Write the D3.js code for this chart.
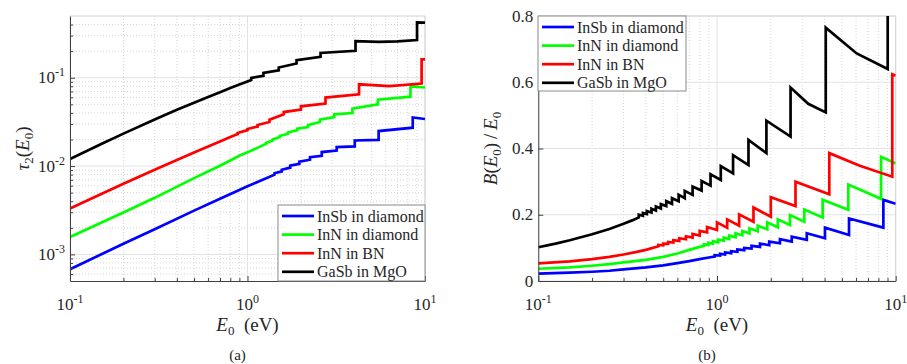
<!DOCTYPE html>
<html>
<head>
<meta charset="utf-8">
<script src="https://cdn.jsdelivr.net/npm/d3@7"></script>
<style>
body { margin: 0; background: #fff; }
svg text { font-family: "Liberation Serif", Tinos, "Times New Roman", "DejaVu Serif", serif; fill: #262626; }
</style>
</head>
<body>
<div id="chart"></div>
<script>
// series names + colors (legend order)
var seriesNames = ["InSb in diamond", "InN in diamond", "InN in BN", "GaSb in MgO"];
var seriesColors = ["#0000ff", "#00ff00", "#ff0000", "#000000"];

// (a) tau_2(E0), points [E0, tau]
var tauInSbDiamond = [[0.1,0.00068],[0.2,0.00132],[0.3,0.00193],[0.5,0.00313],[0.7,0.00427],[1.0,0.0059],
  [1.42,0.0080],[1.42,0.0083],[1.56,0.0087],[1.56,0.0091],[1.74,0.0096],[1.74,0.0101],[1.96,0.0106],[1.96,0.0112],
  [2.25,0.0118],[2.25,0.0126],[2.62,0.0131],[2.62,0.0144],[3.18,0.0150],[3.18,0.0164],[4.02,0.0167],[4.02,0.0195],
  [5.48,0.0198],[5.48,0.0249],[8.53,0.0272],[8.53,0.0355],[10,0.0341]];
var tauInNDiamond = [[0.1,0.00157],[0.2,0.00298],[0.3,0.00437],[0.5,0.0073],[0.7,0.0101],[0.9,0.0131],[1.0,0.0143],
  [1.27,0.0178],[1.27,0.0183],[1.385,0.0194],[1.385,0.0200],[1.52,0.0213],[1.52,0.0219],[1.69,0.0232],[1.69,0.0240],
  [1.91,0.0255],[1.91,0.0265],[2.19,0.0276],[2.19,0.0291],[2.56,0.0315],[2.56,0.0335],[3.08,0.0359],[3.08,0.0385],
  [3.9,0.0398],[3.9,0.0447],[5.43,0.0500],[5.43,0.0565],[8.28,0.0610],[8.28,0.0800],[10,0.0775]];
var tauInNBN = [[0.1,0.0033],[0.15,0.00483],[0.2,0.00631],[0.3,0.00908],[0.4,0.01173],[0.5,0.01425],[0.6,0.01667],
  [0.7,0.0190],[0.8,0.0213],[0.88,0.0230],[0.88,0.0237],
  [1.0,0.0255],[1.0,0.0263],[1.14,0.0280],[1.14,0.0292],[1.33,0.0315],[1.33,0.0335],[1.6,0.0385],[1.6,0.0409],
  [2.0,0.0435],[2.0,0.0475],[2.75,0.0509],[2.75,0.0596],[4.25,0.0650],[4.25,0.0843],[6.3,0.0805],[9.57,0.0860],
  [9.57,0.161],[10,0.161]];
var tauGaSbMgO = [[0.1,0.0120],[0.15,0.0178],[0.2,0.0233],[0.3,0.0337],[0.4,0.0434],[0.5,0.0522],[0.6,0.0607],
  [0.7,0.0687],[0.8,0.0764],[0.9,0.0838],
  [1.05,0.0942],[1.05,0.0998],[1.23,0.105],[1.23,0.1135],[1.5,0.1216],[1.5,0.1306],[1.89,0.145],[1.89,0.158],
  [2.58,0.1725],[2.58,0.191],[4.06,0.202],[4.06,0.260],[5.5,0.255],[7.0,0.258],[9.02,0.267],[9.02,0.424],[10,0.42]];

// (b) B(E0)/E0, points [E0, ratio]
var bInSbDiamond = [[0.1,0.022],[0.15,0.025],[0.2,0.028],[0.25,0.031],[0.3,0.035],[0.4,0.041],[0.5,0.047],[0.6,0.054],
  [0.7,0.060],[0.8,0.066],[0.9,0.071],[0.97,0.074],[0.97,0.078],
  [1.04,0.077],[1.04,0.082],[1.11,0.080],[1.11,0.086],[1.2,0.084],[1.2,0.090],[1.3,0.088],[1.3,0.095],[1.42,0.093],[1.42,0.100],
  [1.56,0.098],[1.56,0.106],[1.74,0.103],[1.74,0.113],[1.96,0.108],[1.96,0.119],[2.25,0.114],[2.25,0.126],[2.62,0.119],[2.62,0.134],
  [3.18,0.124],[3.18,0.144],[4.02,0.129],[4.02,0.161],[5.48,0.139],[5.48,0.189],[8.53,0.161],[8.53,0.245],[10,0.233]];
var bInNDiamond = [[0.1,0.037],[0.15,0.041],[0.2,0.046],[0.25,0.051],[0.3,0.056],[0.4,0.064],[0.5,0.073],[0.6,0.083],
  [0.7,0.094],[0.8,0.103],[0.845,0.106],[0.845,0.111],
  [0.895,0.109],[0.895,0.115],[0.95,0.113],[0.95,0.120],[1.015,0.117],[1.015,0.125],[1.09,0.122],[1.09,0.131],[1.17,0.127],[1.17,0.137],
  [1.27,0.132],[1.27,0.144],[1.385,0.138],[1.385,0.151],[1.52,0.144],[1.52,0.159],[1.69,0.150],[1.69,0.167],[1.91,0.156],[1.91,0.177],
  [2.19,0.162],[2.19,0.186],[2.56,0.169],[2.56,0.199],[3.08,0.179],[3.08,0.216],[3.9,0.192],[3.9,0.245],[5.43,0.215],[5.43,0.291],
  [8.28,0.248],[8.28,0.375],[10,0.355]];
var bInNBN = [[0.1,0.053],[0.15,0.059],[0.2,0.066],[0.25,0.073],[0.3,0.080],[0.35,0.087],[0.4,0.094],[0.47,0.105],[0.47,0.109],[0.5,0.108],[0.5,0.113],
  [0.533,0.112],[0.533,0.118],[0.57,0.116],[0.57,0.123],[0.615,0.121],[0.615,0.129],[0.67,0.126],[0.67,0.135],[0.73,0.131],[0.73,0.142],
  [0.8,0.137],[0.8,0.151],[0.88,0.147],[0.88,0.163],[1.0,0.154],[1.0,0.177],[1.14,0.161],[1.14,0.186],[1.33,0.167],[1.33,0.201],
  [1.6,0.179],[1.6,0.222],[2.0,0.194],[2.0,0.253],[2.75,0.226],[2.75,0.300],[4.25,0.262],[4.25,0.386],[6.3,0.348],[9.57,0.315],
  [9.57,0.624],[10,0.62]];
var bGaSbMgO = [[0.1,0.102],[0.125,0.113],[0.15,0.123],[0.2,0.141],[0.25,0.157],[0.3,0.173],[0.335,0.183],[0.365,0.192],[0.365,0.200],[0.385,0.197],[0.385,0.205],
  [0.405,0.202],[0.405,0.211],[0.43,0.207],[0.43,0.218],[0.455,0.213],[0.455,0.225],[0.485,0.219],[0.485,0.232],[0.52,0.226],[0.52,0.241],
  [0.56,0.233],[0.56,0.250],[0.61,0.241],[0.61,0.260],[0.66,0.250],[0.66,0.272],[0.73,0.260],[0.73,0.285],[0.82,0.273],[0.82,0.302],
  [0.92,0.288],[0.92,0.322],[1.05,0.305],[1.05,0.347],[1.23,0.325],[1.23,0.380],[1.5,0.350],[1.5,0.426],[1.89,0.386],[1.89,0.484],
  [2.58,0.436],[2.58,0.584],[3.24,0.535],[4.06,0.509],[4.06,0.765],[6.05,0.687],[9.02,0.64],[9.02,0.95]];

// ticks
var xTicks = [0.1, 1, 10];
var yTicksA = [0.001, 0.01, 0.1];
var yTicksB = [0, 0.2, 0.4, 0.6, 0.8];

var svg = d3.select('#chart').append('svg')
    .attr("width", 907)
    .attr("height", 364);

function logMinor(lo, hi) {
    var t = [];
    for (var e = -4; e <= 1; e++) {
        for (var k = 2; k <= 9; k++) {
            var v = +(k * Math.pow(10, e)).toPrecision(6);
            if (v > lo * 1.0001 && v < hi * 0.9999) t.push(v);
        }
    }
    return t;
}

function powLabel(sel, v) {
    var ex = Math.round(Math.log10(v));
    sel.text("10");
    sel.append("tspan").attr("dy", -7).attr("font-size", 12).text(ex);
}

function drawPanel(p) {
    var g = svg.append("g");
    var x = p.x, y = p.y;
    var x0 = x.range()[0], x1 = x.range()[1];
    var y0 = y.range()[0], y1 = y.range()[1];

    // grid: minor (dotted) then major
    var xMinor = logMinor(0.1, 10);
    g.selectAll(".gxm").data(xMinor).enter().append("line")
        .attr("x1", function(d) { return x(d); }).attr("x2", function(d) { return x(d); })
        .attr("y1", y0).attr("y2", y1)
        .attr("stroke", "#d6d6d6").attr("stroke-dasharray", "1,2");
    if (p.yMinor) {
        g.selectAll(".gym").data(p.yMinor).enter().append("line")
            .attr("y1", function(d) { return y(d); }).attr("y2", function(d) { return y(d); })
            .attr("x1", x0).attr("x2", x1)
            .attr("stroke", "#d6d6d6").attr("stroke-dasharray", "1,2");
    }
    g.selectAll(".gx").data(xTicks).enter().append("line")
        .attr("x1", function(d) { return x(d); }).attr("x2", function(d) { return x(d); })
        .attr("y1", y0).attr("y2", y1)
        .attr("stroke", "#e3e3e3");
    g.selectAll(".gy").data(p.yTicks).enter().append("line")
        .attr("y1", function(d) { return y(d); }).attr("y2", function(d) { return y(d); })
        .attr("x1", x0).attr("x2", x1)
        .attr("stroke", "#e3e3e3");
    // light frame top / right
    g.append("path")
        .attr("d", "M" + x0 + "," + y1 + "H" + x1 + "V" + y0)
        .attr("fill", "none").attr("stroke", "#d4d4d4");

    // lines
    var clipId = "clip" + p.id;
    svg.append("clipPath").attr("id", clipId).append("rect")
        .attr("x", x0).attr("y", y1).attr("width", x1 - x0).attr("height", y0 - y1);
    var line = d3.line()
        .x(function(d) { return x(d[0]); })
        .y(function(d) { return y(d[1]); });
    g.append("g").attr("clip-path", "url(#" + clipId + ")")
        .selectAll("path").data(p.series).enter().append("path")
        .attr("d", line)
        .attr("fill", "none")
        .attr("stroke", function(d, i) { return seriesColors[i]; })
        .attr("stroke-width", 2.7);

    // axes (ticks inside)
    var xAxis = g.append("g").attr("transform", "translate(0," + y0 + ")");
    xAxis.call(d3.axisBottom(x).tickValues(xMinor).tickSizeInner(-3).tickSizeOuter(0).tickFormat(""));
    xAxis.append("g").call(d3.axisBottom(x).tickValues(xTicks).tickSizeInner(-5).tickSizeOuter(0).tickFormat(""))
        .select(".domain").remove();
    var yAxis = g.append("g").attr("transform", "translate(" + x0 + ",0)");
    yAxis.call(d3.axisLeft(y).tickValues(p.yTicks).tickSizeInner(-5).tickSizeOuter(0).tickFormat(""));
    if (p.yMinor) {
        yAxis.append("g").call(d3.axisLeft(y).tickValues(p.yMinor).tickSizeInner(-3).tickSizeOuter(0).tickFormat(""))
            .select(".domain").remove();
    }
    g.selectAll(".domain, .tick line").attr("stroke", "#404040");

    // tick labels
    g.selectAll(".xl").data(xTicks).enter().append("text")
        .attr("x", function(d) { return x(d); }).attr("y", 310)
        .attr("text-anchor", "middle").attr("font-size", 17)
        .each(function(d) { powLabel(d3.select(this), d); });
    g.selectAll(".yl").data(p.yTicks).enter().append("text")
        .attr("x", x0 - 5).attr("y", function(d) { return y(d) + 5.5; })
        .attr("text-anchor", "end").attr("font-size", 17)
        .each(function(d) {
            if (p.logY) powLabel(d3.select(this), d);
            else d3.select(this).text(d === 0 ? "0" : d3.format(".1f")(d));
        });

    // x label
    var xl = g.append("text").attr("x", (x0 + x1) / 2).attr("y", 331)
        .attr("text-anchor", "middle").attr("font-size", 19);
    xl.append("tspan").attr("font-style", "italic").text("E");
    xl.append("tspan").attr("font-size", 13).attr("dy", 4).text("0");
    xl.append("tspan").attr("dy", -4).text("\u2002(eV)");

    // y label
    var yl = g.append("text")
        .attr("transform", "translate(" + p.yLabelX + "," + ((y0 + y1) / 2) + ") rotate(-90)")
        .attr("text-anchor", "middle").attr("font-size", 19);
    p.yLabel(yl);

    // caption
    g.append("text").attr("x", (x0 + x1) / 2 - 10).attr("y", 360)
        .attr("text-anchor", "middle").attr("font-size", 15).text(p.caption);

    // legend
    var L = p.legend;
    var lg = g.append("g").attr("transform", "translate(" + L.x + "," + L.y + ")");
    lg.append("rect").attr("width", L.w).attr("height", L.h)
        .attr("fill", "#fff").attr("stroke", "#8a8a8a");
    seriesNames.forEach(function(name, i) {
        var cy = 11 + i * 18.6;
        lg.append("line").attr("x1", 4).attr("x2", 36).attr("y1", cy).attr("y2", cy)
            .attr("stroke", seriesColors[i]).attr("stroke-width", 2.7);
        lg.append("text").attr("x", 39).attr("y", cy + 5.5).attr("font-size", 16).text(name);
    });
}

var xA = d3.scaleLog().domain([0.1, 10]).range([70, 425]);
var yA = d3.scaleLog().domain([5e-4, 0.5]).range([281, 16]);
var xB = d3.scaleLog().domain([0.1, 10]).range([538.3, 895.7]);
var yB = d3.scaleLinear().domain([0, 0.8]).range([281, 16]);

drawPanel({
    id: "a", x: xA, y: yA, logY: true,
    yTicks: yTicksA, yMinor: logMinor(5e-4, 0.5),
    series: [tauInSbDiamond, tauInNDiamond, tauInNBN, tauGaSbMgO],
    yLabelX: 29,
    yLabel: function(t) {
        t.append("tspan").attr("font-style", "italic").text("\u03c4");
        t.append("tspan").attr("font-size", 13).attr("dy", 4).text("2");
        t.append("tspan").attr("dy", -4).text("(");
        t.append("tspan").attr("font-style", "italic").text("E");
        t.append("tspan").attr("font-size", 13).attr("dy", 4).text("0");
        t.append("tspan").attr("dy", -4).text(")");
    },
    caption: "(a)",
    legend: { x: 278, y: 205, w: 147, h: 76 }
});

drawPanel({
    id: "b", x: xB, y: yB, logY: false,
    yTicks: yTicksB, yMinor: null,
    series: [bInSbDiamond, bInNDiamond, bInNBN, bGaSbMgO],
    yLabelX: 497,
    yLabel: function(t) {
        t.append("tspan").attr("font-style", "italic").text("B");
        t.append("tspan").text("(");
        t.append("tspan").attr("font-style", "italic").text("E");
        t.append("tspan").attr("font-size", 13).attr("dy", 4).text("0");
        t.append("tspan").attr("dy", -4).text(")\u2009/\u2009");
        t.append("tspan").attr("font-style", "italic").text("E");
        t.append("tspan").attr("font-size", 13).attr("dy", 4).text("0");
    },
    caption: "(b)",
    legend: { x: 538, y: 16, w: 148, h: 75 }
});
</script>
</body>
</html>
